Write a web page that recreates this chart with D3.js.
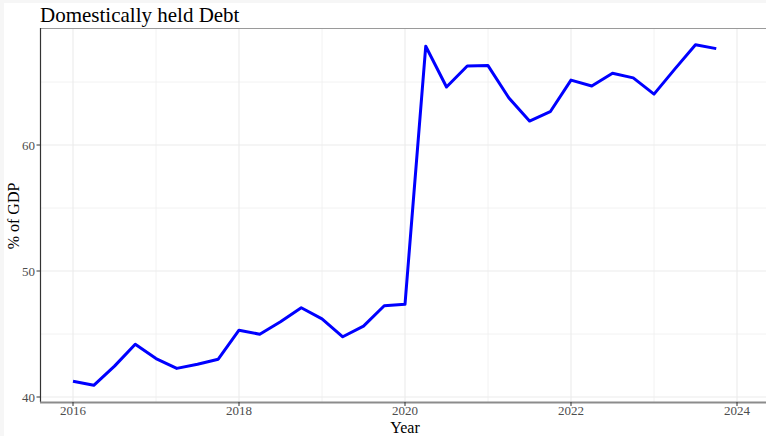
<!DOCTYPE html>
<html><head><meta charset="utf-8">
<script src="https://cdn.jsdelivr.net/npm/d3@7"></script>
<style>html,body{margin:0;padding:0;background:#f6f6f6;}svg{display:block;}</style>
</head><body>
<svg id="c" width="766" height="436"></svg>
<script>
const title = "Domestically held Debt";
const xLabel = "Year";
const yLabel = "% of GDP";
const quarters = [2016.00,2016.25,2016.50,2016.75,2017.00,2017.25,2017.50,2017.75,
  2018.00,2018.25,2018.50,2018.75,2019.00,2019.25,2019.50,2019.75,
  2020.00,2020.25,2020.50,2020.75,2021.00,2021.25,2021.50,2021.75,
  2022.00,2022.25,2022.50,2022.75,2023.00,2023.25,2023.50,2023.75];
const debt = [41.25,40.93,42.45,44.18,43.05,42.27,42.6,43.0,
  45.3,44.98,45.97,47.08,46.2,44.78,45.62,47.24,
  47.36,67.84,64.6,66.27,66.3,63.75,61.9,62.64,
  65.15,64.68,65.7,65.33,64.04,66.02,67.96,67.65];
const xMajor = [2016,2018,2020,2022,2024];
const xMinor = [2017,2019,2021,2023];
const yMajor = [40,50,60];
const yMinor = [45,55,65];

const svg = d3.select("#c");
svg.append("rect").attr("x",4).attr("y",3).attr("width",762).attr("height",433).attr("fill","#fff");
const L = 40, T = 28, R = 766, B = 402;
const x = d3.scaleLinear().domain([2016,2024]).range([73,737]);
const y = d3.scaleLinear().domain([40,60]).range([397,145]);
const g = svg.append("g");
g.selectAll(".ymin").data(yMinor).join("line").attr("x1",L).attr("x2",R).attr("y1",d=>y(d)).attr("y2",d=>y(d)).attr("stroke","#efefef").attr("stroke-width",0.8);
g.selectAll(".xmin").data(xMinor).join("line").attr("y1",T).attr("y2",B).attr("x1",d=>x(d)).attr("x2",d=>x(d)).attr("stroke","#efefef").attr("stroke-width",0.8);
g.selectAll(".ymaj").data(yMajor).join("line").attr("x1",L).attr("x2",R).attr("y1",d=>y(d)).attr("y2",d=>y(d)).attr("stroke","#ebebeb").attr("stroke-width",1.1);
g.selectAll(".xmaj").data(xMajor).join("line").attr("y1",T).attr("y2",B).attr("x1",d=>x(d)).attr("x2",d=>x(d)).attr("stroke","#ebebeb").attr("stroke-width",1.1);
g.append("line").attr("x1",L).attr("x2",R).attr("y1",T+0.5).attr("y2",T+0.5).attr("stroke","#9a9a9a").attr("stroke-width",1);
const line = d3.line().x((d,i)=>x(quarters[i])).y(d=>y(d));
g.append("path").datum(debt).attr("d",line).attr("fill","none").attr("stroke","#0000ff").attr("stroke-width",3).attr("stroke-linejoin","round");
g.append("line").attr("x1",L+0.5).attr("x2",L+0.5).attr("y1",T).attr("y2",B).attr("stroke","#333").attr("stroke-width",1.2);
g.append("line").attr("x1",L).attr("x2",R).attr("y1",B+0.5).attr("y2",B+0.5).attr("stroke","#8c8c8c").attr("stroke-width",2.2);
g.selectAll(".yt").data(yMajor).join("line").attr("x1",L-3.5).attr("x2",L).attr("y1",d=>y(d)).attr("y2",d=>y(d)).attr("stroke","#333").attr("stroke-width",1);
g.selectAll(".xt").data(xMajor).join("line").attr("y1",B).attr("y2",B+4).attr("x1",d=>x(d)).attr("x2",d=>x(d)).attr("stroke","#333").attr("stroke-width",1);
const font = "'Liberation Serif','Times New Roman',serif";
g.selectAll(".yl").data(yMajor).join("text").attr("x",L-5).attr("y",d=>y(d)+4.5).attr("text-anchor","end").attr("font-family",font).attr("font-size",13).attr("fill","#4d4d4d").text(d=>d);
g.selectAll(".xl").data(xMajor).join("text").attr("x",d=>x(d)).attr("y",415).attr("text-anchor","middle").attr("font-family",font).attr("font-size",13).attr("fill","#4d4d4d").text(d=>d);
svg.append("text").attr("x",405).attr("y",432.5).attr("text-anchor","middle").attr("font-family",font).attr("font-size",16).attr("fill","#000").text(xLabel);
svg.append("text").attr("transform","translate(19,216) rotate(-90)").attr("text-anchor","middle").attr("font-family",font).attr("font-size",16).attr("fill","#000").text(yLabel);
svg.append("text").attr("x",40).attr("y",22).attr("font-family",font).attr("font-size",21).attr("fill","#000").text(title);
</script>
</body></html>
